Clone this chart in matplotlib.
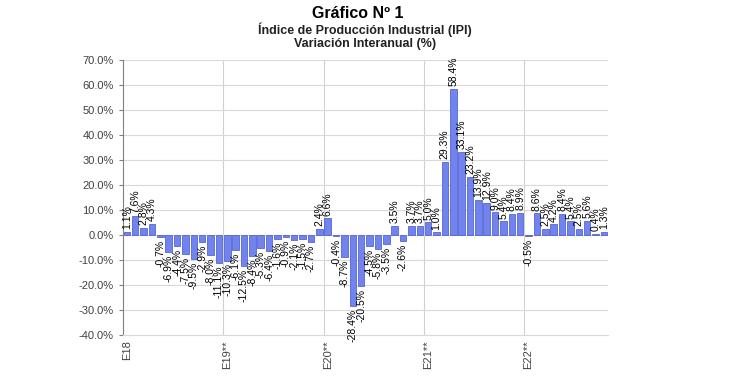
import matplotlib

matplotlib.use("Agg")
import matplotlib.pyplot as plt

# Variación interanual del IPI, enero 2018 - octubre 2022
VALUES_2018 = [1.1, 7.6, 2.8, 4.3, -0.7, -6.9, -4.4, -7.5, -9.5, -2.9, -8.0, -11.1]
VALUES_2019 = [-10.3, -6.1, -12.5, -8.4, -5.3, -6.4, -1.6, -0.9, -2.1, -1.5, -2.7, 2.4]
VALUES_2020 = [6.6, -0.4, -8.7, -28.4, -20.5, -4.5, -5.8, -3.5, 3.5, -2.6, 3.7, 3.7]
VALUES_2021 = [5.0, 1.0, 29.3, 58.4, 33.1, 23.2, 13.9, 12.9, 9.0, 5.4, 8.4, 8.9]
VALUES_2022 = [-0.5, 8.6, 2.5, 4.2, 8.4, 5.4, 2.5, 5.6, 0.4, 1.3]
YEAR_LABELS = ["E18", "E19**", "E20**", "E21**", "E22**"]
Y_TICKS = [-40, -30, -20, -10, 0, 10, 20, 30, 40, 50, 60, 70]

values = VALUES_2018 + VALUES_2019 + VALUES_2020 + VALUES_2021 + VALUES_2022
x = list(range(len(values)))

plt.rcParams["font.family"] = ["Liberation Sans", "DejaVu Sans"]

fig = plt.figure(figsize=(7.3, 3.84), dpi=100)
ax = fig.add_axes([0.168, 0.128, 0.665, 0.716])

ax.bar(x, values, width=0.78, color="#7083EE", edgecolor="#4353C8", linewidth=0.5, zorder=3)

for xi, v in zip(x, values):
    ax.annotate(
        f"{v:.1f}%",
        (xi, v),
        xytext=(0, 2 if v >= 0 else -2),
        textcoords="offset points",
        rotation=90,
        ha="center",
        va="bottom" if v >= 0 else "top",
        fontsize=7.5,
        color="black",
        zorder=4,
    )

ax.set_xlim(-0.5, len(values) - 0.5)
ax.set_ylim(-40, 70)
ax.set_yticks(Y_TICKS, [f"{t:.1f}%" for t in Y_TICKS])

year_starts = [12 * i for i in range(len(YEAR_LABELS))]
ax.set_xticks(year_starts, YEAR_LABELS, rotation=90)
for s in year_starts[1:]:
    ax.axvline(s - 0.5, color="#D0D0D0", linewidth=0.8, zorder=1)
ax.grid(axis="y", color="#D9D9D9", linewidth=0.8, zorder=1)

ax.tick_params(axis="y", labelsize=8, colors="#404040", length=3, direction="out")
ax.tick_params(axis="x", labelsize=8, colors="#404040", length=0, pad=4)
ax.tick_params(axis="y", color="#808080")
for side in ("top", "right"):
    ax.spines[side].set_visible(False)
ax.spines["left"].set_color("#808080")
ax.spines["bottom"].set_color("#D9D9D9")

fig.text(0.49, 0.965, "Gráfico Nº 1", ha="center", va="center", fontsize=11.5, fontweight="bold")
fig.text(0.5, 0.922, "Índice de Producción Industrial (IPI)", ha="center", va="center",
         fontsize=9, fontweight="bold", color="#222222")
fig.text(0.5, 0.885, "Variación Interanual (%)", ha="center", va="center",
         fontsize=9, fontweight="bold", color="#222222")

fig.savefig("out.png", dpi=100)
